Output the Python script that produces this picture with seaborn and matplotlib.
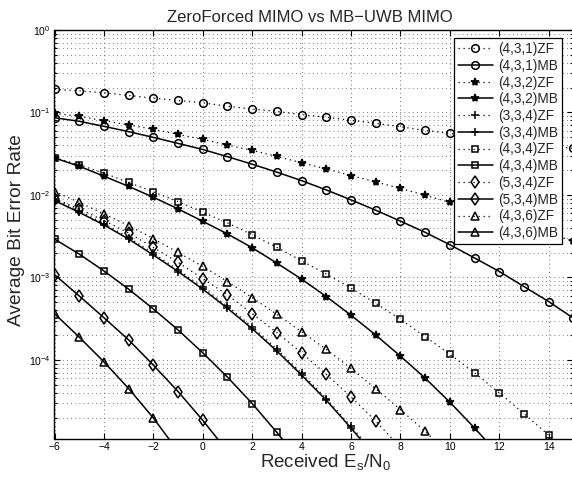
import numpy as np
import pandas as pd
import matplotlib
matplotlib.use("Agg")
import matplotlib.pyplot as plt
import seaborn as sns
from matplotlib.ticker import LogLocator, NullFormatter, FixedLocator, LogFormatterSciNotation

# ---------------- data ----------------
snr = list(range(-6, 16))

zf_431 = [0.191, 0.183, 0.173, 0.161, 0.149, 0.140, 0.131, 0.119, 0.110, 0.103, 0.0942,
          0.0875, 0.0803, 0.0740, 0.0670, 0.0607, 0.0558, 0.0513, 0.0472, 0.0434, 0.0399, 0.0366]
mb_431 = [0.0863, 0.0782, 0.0679, 0.0586, 0.0499, 0.0422, 0.0356, 0.0291, 0.0236, 0.0189, 0.0149,
          0.0115, 0.00871, 0.00653, 0.00481, 0.00352, 0.00249, 0.00172, 0.00118, 0.000774, 0.000509, 0.000320]
zf_432 = [0.0977, 0.0899, 0.0796, 0.0705, 0.0625, 0.0543, 0.0472, 0.0403, 0.0347, 0.0293, 0.0246,
          0.0207, 0.0172, 0.0144, 0.0120, 0.00989, 0.00815, 0.00664, 0.00538, 0.00433, 0.00346, 0.00275]
mb_432 = [0.0281, 0.0223, 0.0169, 0.0127, 0.00938, 0.00678, 0.00479, 0.00337, 0.00229, 0.00149,
          0.000953, 0.000586, 0.000348, 0.000200, 0.000111, 6.01e-5, 3.07e-5, 1.49e-5, 7.0e-6]
zf_334 = [0.00890, 0.00640, 0.00450, 0.00305, 0.00196, 0.00124, 0.000760, 0.000446, 0.000252,
          0.000135, 6.9e-5, 3.4e-5, 1.57e-5, 7.0e-6]
mb_334 = [0.00855, 0.00616, 0.00433, 0.00292, 0.00187, 0.00118, 0.000721, 0.000423, 0.000239,
          0.000128, 6.53e-5, 3.24e-5, 1.49e-5, 6.6e-6]
zf_434 = [0.0283, 0.0232, 0.0184, 0.0142, 0.0109, 0.00832, 0.00617, 0.00458, 0.00330, 0.00231,
          0.00159, 0.00110, 0.000741, 0.000486, 0.000311, 0.000191, 0.000117, 6.97e-5, 3.98e-5,
          2.23e-5, 1.22e-5, 6.4e-6]
mb_434 = [0.00292, 0.00192, 0.00120, 0.000721, 0.000415, 0.000231, 0.000122, 6.18e-5, 2.96e-5,
          1.32e-5, 5.6e-6]
zf_534 = [0.00904, 0.00678, 0.00489, 0.00346, 0.00231, 0.00152, 0.000970, 0.000614, 0.000364,
          0.000214, 0.000122, 6.67e-5, 3.56e-5, 1.80e-5, 8.7e-6]
mb_534 = [0.00108, 0.000597, 0.000325, 0.000175, 8.65e-5, 4.14e-5, 1.85e-5, 7.8e-6]
zf_436 = [0.0110, 0.00815, 0.00589, 0.00425, 0.00296, 0.00201, 0.00136, 0.000891, 0.000569,
          0.000357, 0.000220, 0.000134, 7.89e-5, 4.45e-5, 2.50e-5, 1.36e-5, 7.1e-6]
mb_436 = [0.000364, 0.000189, 9.48e-5, 4.50e-5, 1.98e-5, 7.8e-6]

series_names = ["(4,3,1)ZF", "(4,3,1)MB", "(4,3,2)ZF", "(4,3,2)MB", "(3,3,4)ZF", "(3,3,4)MB",
                "(4,3,4)ZF", "(4,3,4)MB", "(5,3,4)ZF", "(5,3,4)MB", "(4,3,6)ZF", "(4,3,6)MB"]
series_vals = [zf_431, mb_431, zf_432, mb_432, zf_334, mb_334,
               zf_434, mb_434, zf_534, mb_534, zf_436, mb_436]

title = "ZeroForced MIMO vs MB\u2212UWB MIMO"
xlabel = r"Received E$_\mathregular{s}$/N$_\mathregular{0}$"
ylabel = "Average Bit Error Rate"
xticks = list(range(-6, 15, 2))
yticks = [1e-4, 1e-3, 1e-2, 1e-1, 1e0]

# ---------------- styling ----------------
sns.set_style("ticks")
plt.rcParams["font.family"] = ["Liberation Sans", "DejaVu Sans"]
plt.rcParams["mathtext.fontset"] = "custom"
plt.rcParams["mathtext.rm"] = "Liberation Sans"
plt.rcParams["mathtext.it"] = "Liberation Sans"
plt.rcParams["mathtext.default"] = "regular"

markers = {"(4,3,1)": ("o", 5.5), "(4,3,2)": ("*", 6.0), "(3,3,4)": ("+", 5.5),
           "(4,3,4)": ("s", 4.5), "(5,3,4)": ("d", 6.0), "(4,3,6)": ("^", 5.5)}

W, H = 572, 479
fig = plt.figure(figsize=(W / 100, H / 100), dpi=100)
ax = fig.add_axes([54.5 / W, 40 / H, 519 / W, 409 / H])

frames = []
for name, vals in zip(series_names, series_vals):
    frames.append(pd.DataFrame({"snr": snr[:len(vals)], "ber": vals, "series": name}))
df = pd.concat(frames, ignore_index=True)

for name in series_names:
    sub = df[df["series"] == name]
    key = name[:7]
    mk, ms = markers[key]
    is_zf = name.endswith("ZF")
    sns.lineplot(data=sub, x="snr", y="ber", ax=ax, label=name, color="black",
                 linestyle=(0, (1, 3)) if is_zf else "-",
                 linewidth=0.9 if is_zf else 1.1,
                 marker=mk, markersize=ms, markerfacecolor="none" if mk not in ("*", "+") else "black",
                 markeredgecolor="black", markeredgewidth=1.1, estimator=None, sort=True,
                 clip_on=True)

ax.set_yscale("log")
ax.set_xlim(-6, 15)
ax.set_ylim(1.1e-5, 1.0)
ax.xaxis.set_major_locator(FixedLocator(xticks))
ax.yaxis.set_major_locator(FixedLocator(yticks))
ax.yaxis.set_major_formatter(LogFormatterSciNotation(base=10))
ax.yaxis.set_minor_locator(LogLocator(base=10, subs=np.arange(2, 10), numticks=12))
ax.yaxis.set_minor_formatter(NullFormatter())

ax.grid(True, which="major", axis="both", color="#444444", linestyle=(0, (1, 4)), linewidth=0.6)
ax.grid(True, which="minor", axis="y", color="#555555", linestyle=(0, (1, 4)), linewidth=0.6)

ax.tick_params(which="both", direction="in", top=True, right=True, labelsize=7.5, colors="black",
               width=0.8)
ax.tick_params(which="major", length=4)
ax.tick_params(which="minor", length=2)
ax.tick_params(axis="x", pad=2.5)
ax.tick_params(axis="y", pad=3)
for s in ax.spines.values():
    s.set_color("black")
    s.set_linewidth(1.0)

ax.set_title(title, fontsize=12, pad=6, x=(310 - 54.5) / 519)
ax.set_xlabel(xlabel, fontsize=13.5)
ax.xaxis.set_label_coords((325.5 - 54.5) / 519, (439 - 451.5) / 409)
ax.set_ylabel(ylabel, fontsize=13.8)
ax.yaxis.set_label_coords((25 - 54.5) / 519, 0.51)

leg = ax.legend(loc="upper right", bbox_to_anchor=(562 / W, (H - 38) / H),
                bbox_transform=fig.transFigure, fontsize=9.8, frameon=True, fancybox=False,
                edgecolor="black", framealpha=1.0, handlelength=2.6, labelspacing=0.2,
                borderpad=0.3, handletextpad=0.35, borderaxespad=0)
leg.get_frame().set_linewidth(0.9)

fig.savefig("out.png", dpi=100)
